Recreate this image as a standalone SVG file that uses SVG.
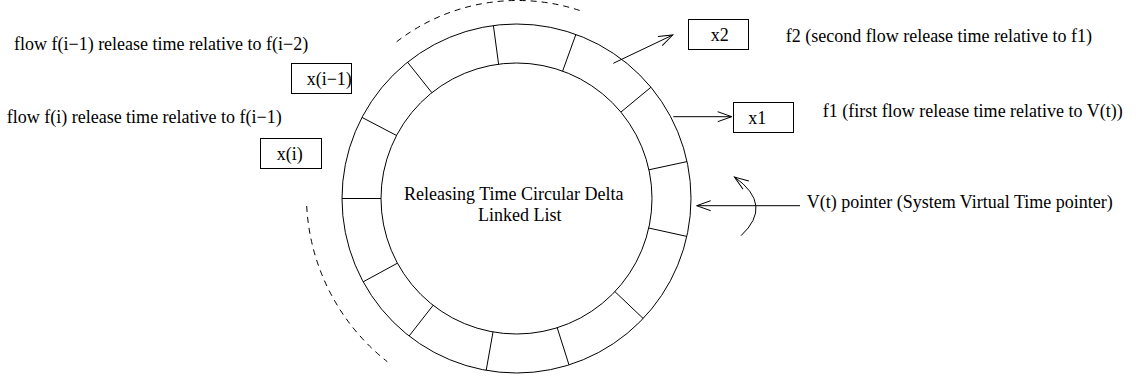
<svg xmlns="http://www.w3.org/2000/svg" width="1140" height="380" viewBox="0 0 1140 380">
<style>
  text { font-family: "Liberation Serif", "Times New Roman", serif; font-size: 18px; fill: #000; }
  .ln { fill: none; stroke: #000; stroke-width: 1; }
  .box { fill: #fff; stroke: #000; stroke-width: 1; }
  .dash { fill: none; stroke: #000; stroke-width: 1; stroke-dasharray: 6 5; }
</style>
<defs>
  <marker id="arr" markerUnits="userSpaceOnUse" markerWidth="20" markerHeight="14" refX="15" refY="6" orient="auto">
    <path d="M1,1 L15,6 L1,11" fill="none" stroke="#000" stroke-width="1"/>
  </marker>
</defs>
<rect width="1140" height="380" fill="#fff"/>

<g id="ring">
  <circle class="ln" cx="516.5" cy="198.5" r="174.5"/>
  <circle class="ln" cx="516.5" cy="198.5" r="135.5"/>
  <g id="dividers" class="ln">
    <line x1="493.4" y1="25.5" x2="498.6" y2="64.2" stroke="#000"/>
    <line x1="575.9" y1="34.4" x2="562.6" y2="71.2" stroke="#000"/>
    <line x1="651.0" y1="87.2" x2="620.9" y2="112.1" stroke="#000"/>
    <line x1="687.0" y1="161.6" x2="648.9" y2="169.8" stroke="#000"/>
    <line x1="686.8" y1="236.4" x2="648.7" y2="228.0" stroke="#000"/>
    <line x1="643.2" y1="318.5" x2="614.9" y2="291.6" stroke="#000"/>
    <line x1="569.0" y1="364.9" x2="557.2" y2="327.7" stroke="#000"/>
    <line x1="486.2" y1="370.3" x2="493.0" y2="331.9" stroke="#000"/>
    <line x1="409.1" y1="336.0" x2="433.1" y2="305.3" stroke="#000"/>
    <line x1="363.2" y1="281.8" x2="397.4" y2="263.2" stroke="#000"/>
    <line x1="342.0" y1="198.5" x2="381.0" y2="198.5" stroke="#000"/>
    <line x1="362.0" y1="117.4" x2="396.6" y2="135.5" stroke="#000"/>
    <line x1="407.5" y1="62.1" x2="431.8" y2="92.6" stroke="#000"/>
  </g>
  <text x="404" y="200">Releasing Time Circular Delta</text>
  <text x="478" y="220.7">Linked List</text>
</g>

<g id="dashed-arcs">
  <path class="dash" d="M396.7,41.7 A198,198 0 0 1 583.3,11.7"/>
  <path class="dash" d="M306.7,206 A212,212 0 0 0 387.3,361.7"/>
</g>

<g id="node-x2">
  <rect class="box" x="688.5" y="19.5" width="60" height="30"/>
  <text x="710.7" y="41">x2</text>
</g>
<g id="node-x1">
  <rect class="box" x="733.5" y="102.5" width="60" height="30"/>
  <text x="748.3" y="123.5">x1</text>
</g>
<g id="node-xi1">
  <rect class="box" x="291.5" y="63.5" width="60" height="30"/>
  <text x="306.7" y="85">x(i−1)</text>
</g>
<g id="node-xi">
  <rect class="box" x="260.5" y="138.5" width="61" height="30"/>
  <text x="276.7" y="160">x(i)</text>
</g>

<g id="labels">
  <text x="785.7" y="42">f2 (second flow release time relative to f1)</text>
  <text x="822.7" y="117">f1 (first flow release time relative to V(t))</text>
  <text x="806.7" y="207.5">V(t) pointer (System Virtual Time pointer)</text>
  <text x="14" y="50">flow f(i−1) release time relative to f(i−2)</text>
  <text x="6.7" y="122.5">flow f(i) release time relative to f(i−1)</text>
</g>

<g id="connectors">
  <line class="ln" x1="613.3" y1="63.3" x2="672.7" y2="35" marker-end="url(#arr)"/>
  <line class="ln" x1="673.3" y1="116.7" x2="731.7" y2="116.7" marker-end="url(#arr)"/>
  <line class="ln" x1="800" y1="205.7" x2="696.7" y2="205.7" marker-end="url(#arr)"/>
  <path class="ln" d="M741,235.7 Q774,205 734.5,177" marker-end="url(#arr)"/>
</g>
</svg>
